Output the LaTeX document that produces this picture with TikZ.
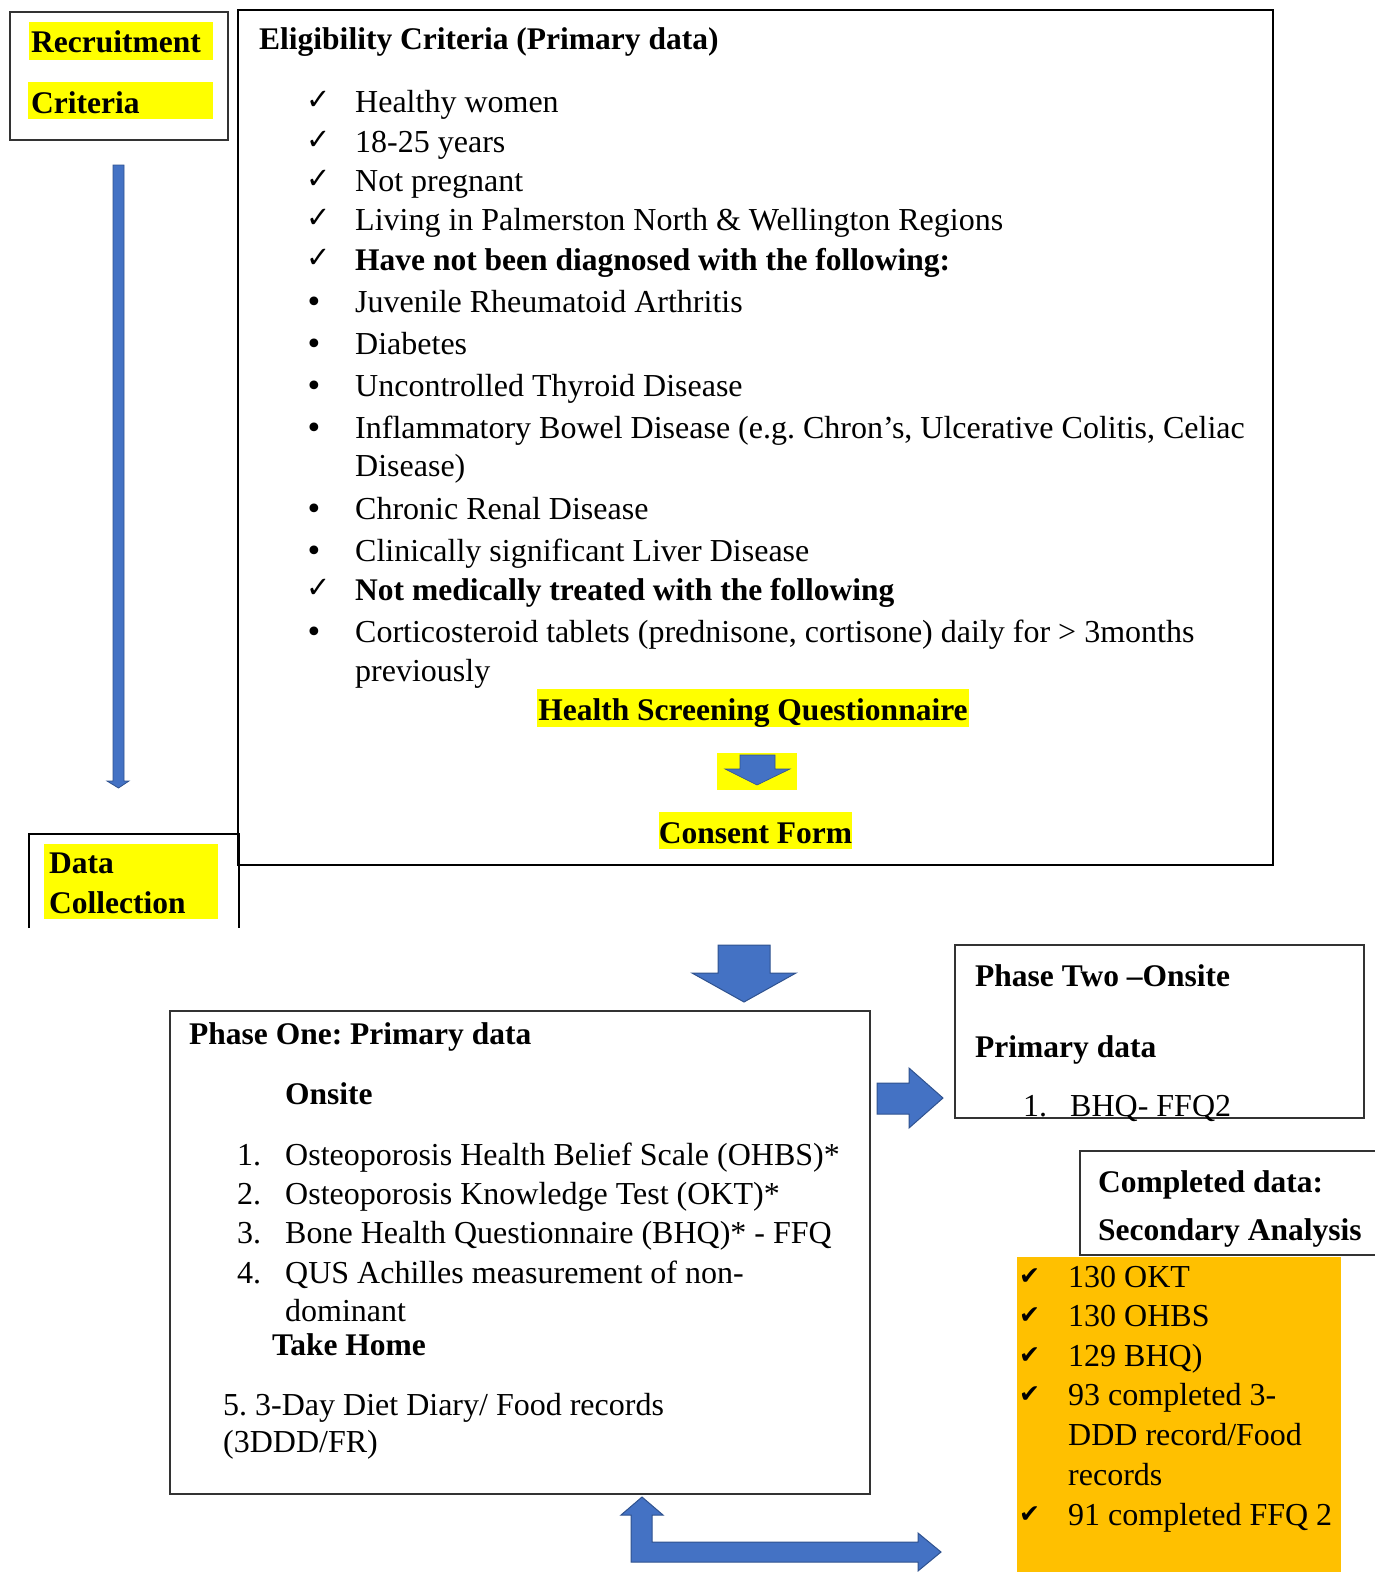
\documentclass[tikz,border=0pt]{standalone}
\usepackage{fontspec}
\setmainfont{Liberation Serif}
\newfontfamily\symfont{DejaVu Sans}
\definecolor{blueA}{HTML}{4472C4}
\definecolor{blueB}{HTML}{2F528F}
\definecolor{hl}{HTML}{FFFF00}
\definecolor{orng}{HTML}{FFC000}
\newcommand{\ck}{{\symfont\fontsize{29}{30}\selectfont ✓}}
\newcommand{\ckb}{{\symfont\fontsize{25}{30}\selectfont ✔}}
\newcommand{\bul}{{\symfont\fontsize{30}{30}\selectfont •}}
\frenchspacing
\begin{document}
\frenchspacing
\begin{tikzpicture}[x=1pt,y=-1pt,
  txt/.style={anchor=base west, inner sep=0pt, font=\fontsize{32}{40}\selectfont\frenchspacing},
  bld/.style={anchor=base west, inner sep=0pt, font=\fontsize{31.5}{40}\selectfont\bfseries\frenchspacing},
  thinbox/.style={draw=black!80, line width=1.3pt},
  thickbox/.style={draw=black, line width=2.6pt},
  blk/.style={fill=blueA, draw=blueB, line width=1pt, line join=miter}]
\useasboundingbox (0,0) rectangle (1375,1572);

% ---------- Recruitment criteria ----------
\draw[thinbox] (10,12) rectangle (228,140);
\fill[hl] (29,22) rectangle (213,60);
\fill[hl] (28,82) rectangle (213,119);
\node[bld] (rec1) at (31,52) {Recruitment};
\node[bld] (rec2) at (31,113) {Criteria};

% thin vertical arrow
\draw[blk, line width=0.8pt] (113,165) -- (124,165) -- (124,781) -- (129,781) -- (118.5,788) -- (107,781) -- (113,781) -- cycle;

% ---------- Data collection ----------
\draw[thickbox] (29,928) -- (29,834) -- (239,834) -- (239,928);
\fill[hl] (44,844) rectangle (218,919);
\node[bld] (dc1) at (49,873) {Data};
\node[bld] (dc2) at (49,913) {Collection};

% ---------- Eligibility ----------
\draw[thickbox] (238,10) rectangle (1273,865);
\node[bld] (elh) at (259,49) {Eligibility Criteria (Primary data)};

\node[txt] (c1) at (306,109) {\ck};
\node[txt] (e1) at (355,112) {Healthy women};
\node[txt] (c2) at (306,149) {\ck};
\node[txt] (e2) at (355,152) {18-25 years};
\node[txt] (c3) at (306,188) {\ck};
\node[txt] (e3) at (355,191) {Not pregnant};
\node[txt] (c4) at (306,227) {\ck};
\node[txt] (e4) at (355,230) {Living in Palmerston North \& Wellington Regions};
\node[txt] (c5) at (306,267) {\ck};
\node[bld] (e5) at (355,270) {Have not been diagnosed with the following:};
\node[txt] (b6) at (305,312) {\bul};
\node[txt] (e6) at (355,312) {Juvenile Rheumatoid Arthritis};
\node[txt] (b7) at (305,354) {\bul};
\node[txt] (e7) at (355,354) {Diabetes};
\node[txt] (b8) at (305,396) {\bul};
\node[txt] (e8) at (355,396) {Uncontrolled Thyroid Disease};
\node[txt] (b9) at (305,438) {\bul};
\node[txt] (e9) at (355,438) {Inflammatory Bowel Disease (e.g. Chron’s, Ulcerative Colitis, Celiac};
\node[txt] (e9b) at (355,476) {Disease)};
\node[txt] (b10) at (305,519) {\bul};
\node[txt] (e10) at (355,519) {Chronic Renal Disease};
\node[txt] (b11) at (305,561) {\bul};
\node[txt] (e11) at (355,561) {Clinically significant Liver Disease};
\node[txt] (c12) at (306,597) {\ck};
\node[bld] (e12) at (355,600) {Not medically treated with the following};
\node[txt] (b13) at (305,642) {\bul};
\node[txt] (e13) at (355,642) {Corticosteroid tablets (prednisone, cortisone) daily for > 3months};
\node[txt] (e13b) at (355,681) {previously};

\fill[hl] (537,689) rectangle (969,727);
\node[bld, anchor=base] (hsq) at (753,720) {Health Screening Questionnaire};
\fill[hl] (717,753) rectangle (797,790);
\draw[blk, line width=0.6pt] (740,755) -- (775,755) -- (775,769) -- (790,769) -- (757,785) -- (725,769) -- (740,769) -- cycle;
\fill[hl] (659,812) rectangle (852,849);
\node[bld, anchor=base] (cf) at (755.5,843) {Consent Form};

% ---------- big down arrow ----------
\draw[blk] (718,945) -- (770,945) -- (770,973) -- (796,973) -- (744,1002) -- (692,973) -- (718,973) -- cycle;

% ---------- Phase one ----------
\draw[thinbox] (170,1011) rectangle (870,1494);
\node[bld] (p1h) at (189,1044) {Phase One: Primary data};
\node[bld] (p1o) at (285,1104) {Onsite};
\node[txt] (n1) at (237,1165) {1.};
\node[txt] (t1) at (285,1165) {Osteoporosis Health Belief Scale (OHBS)*};
\node[txt] (n2) at (237,1204) {2.};
\node[txt] (t2) at (285,1204) {Osteoporosis Knowledge Test (OKT)*};
\node[txt] (n3) at (237,1243) {3.};
\node[txt] (t3) at (285,1243) {Bone Health Questionnaire (BHQ)* - FFQ};
\node[txt] (n4) at (237,1283) {4.};
\node[txt] (t4) at (285,1283) {QUS Achilles measurement of non-};
\node[txt] (t4b) at (285,1321) {dominant};
\node[bld] (p1t) at (272,1355) {Take Home};
\node[txt] (t5) at (223,1415) {5. 3-Day Diet Diary/ Food records};
\node[txt] (t5b) at (223,1452) {(3DDD/FR)};

% right arrow
\draw[blk] (877,1083) -- (909,1083) -- (909,1068) -- (943,1098) -- (909,1128) -- (909,1114) -- (877,1114) -- cycle;

% ---------- Phase two ----------
\draw[thinbox] (955,945) rectangle (1364,1118);
\node[bld] (p2h) at (975,986) {Phase Two –Onsite};
\node[bld] (p2p) at (975,1057) {Primary data};
\node[txt] (p2n) at (1023,1116) {1.};
\node[txt] (p2t) at (1070,1116) {BHQ- FFQ2};

% ---------- Completed data ----------
\draw[thinbox] (1380,1151) -- (1080,1151) -- (1080,1255) -- (1380,1255);
\node[bld] (cd1) at (1098,1192) {Completed data:};
\node[bld] (cd2) at (1098,1240) {Secondary Analysis};

\fill[orng] (1017,1257) rectangle (1341,1572);
\node[txt] (oc1) at (1019,1284) {\ckb};
\node[txt] (o1) at (1068,1287) {130 OKT};
\node[txt] (oc2) at (1019,1323) {\ckb};
\node[txt] (o2) at (1068,1326) {130 OHBS};
\node[txt] (oc3) at (1019,1363) {\ckb};
\node[txt] (o3) at (1068,1366) {129 BHQ)};
\node[txt] (oc4) at (1019,1402) {\ckb};
\node[txt] (o4) at (1068,1405) {93 completed 3-};
\node[txt] (o4b) at (1068,1445) {DDD record/Food};
\node[txt] (o4c) at (1068,1485) {records};
\node[txt] (oc5) at (1019,1522) {\ckb};
\node[txt] (o5) at (1068,1525) {91 completed FFQ 2};

% ---------- bottom L arrow ----------
\draw[blk] (642,1497) -- (663,1515) -- (652,1515) -- (652,1542) -- (918,1542) -- (918,1533) -- (941,1552) -- (918,1571) -- (918,1562) -- (631,1562) -- (631,1515) -- (621,1515) -- cycle;
\end{tikzpicture}
\end{document}
